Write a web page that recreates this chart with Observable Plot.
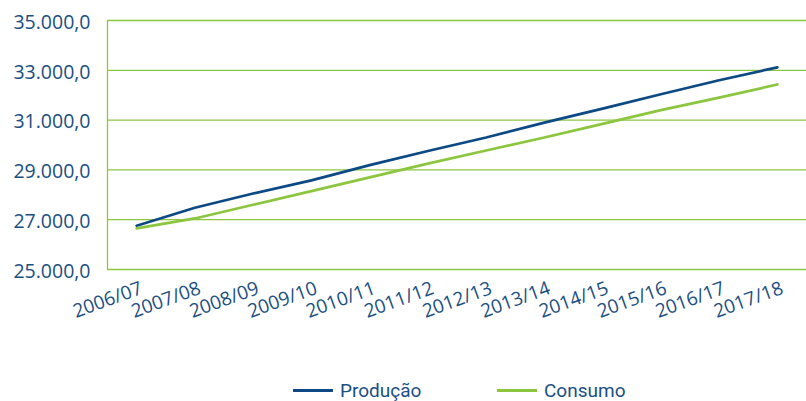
<!DOCTYPE html>
<html>
<head>
<meta charset="utf-8">
<script src="https://cdn.jsdelivr.net/npm/d3@7"></script>
<script src="https://cdn.jsdelivr.net/npm/@observablehq/plot@0.6"></script>
<style>
  html, body { margin: 0; padding: 0; background: #fff; }
  #wrap { position: relative; width: 806px; height: 401px; }
  #chart { width: 806px; }
  .item { position: absolute; top: 378px; display: flex; align-items: center; height: 24px; font-family: Roboto, sans-serif; font-size: 19px; color: #1b4f82; }
  .sw { width: 40px; height: 3px; margin-right: 7px; }
</style>
</head>
<body>
<div id="wrap">
<div id="chart"></div>
</div>
<script>
const categories = ["2006/07","2007/08","2008/09","2009/10","2010/11","2011/12","2012/13","2013/14","2014/15","2015/16","2016/17","2017/18"];
const producao = [26760, 27480, 28050, 28580, 29190, 29760, 30300, 30900, 31460, 32040, 32600, 33120];
const consumo  = [26650, 27050, 27600, 28150, 28700, 29250, 29780, 30300, 30850, 31400, 31900, 32430];
const yTicks = [25000, 27000, 29000, 31000, 33000, 35000];
const seriesNames = ["Produção", "Consumo"];
const seriesColors = ["#0d4a85", "#8cc63f"];

const rows = [];
categories.forEach((c, i) => {
  rows.push({i, cat: c, serie: seriesNames[0], v: producao[i]});
  rows.push({i, cat: c, serie: seriesNames[1], v: consumo[i]});
});

const fmt = d3.formatLocale({decimal: ",", thousands: ".", grouping: [3], currency: ["", ""]}).format(",.1f");
const textColor = "#1b4f82";
const grid = "#8cc63f";

const chart = Plot.plot({
  width: 806,
  height: 355,
  marginLeft: 107,
  marginRight: 0,
  marginTop: 20,
  marginBottom: 86,
  style: {fontFamily: "'Open Sans', sans-serif", color: textColor, background: "#fff"},
  x: {type: "linear", domain: [-0.5, categories.length - 0.5]},
  y: {domain: [25000, 35000]},
  color: {domain: seriesNames, range: seriesColors},
  marks: [
    Plot.ruleY(yTicks, {stroke: grid, strokeWidth: 1.3}),
    Plot.ruleX([-0.5], {y1: 25000, y2: 35000, stroke: grid, strokeWidth: 1.3}),
    Plot.axisY({ticks: yTicks, tickFormat: fmt, tickSize: 0, tickPadding: 17, fontSize: 19.5, label: null, fill: textColor, dy: 2}),
    Plot.axisX({ticks: d3.range(categories.length), tickFormat: i => categories[i], tickSize: 0, tickPadding: 18, tickRotate: -20, fontSize: 19, label: null, fill: textColor, dx: 5}),
    Plot.line(rows, {x: "i", y: "v", z: "serie", stroke: "serie", strokeWidth: 2.7})
  ]
});
document.getElementById("chart").appendChild(chart);

const wrap = document.getElementById("wrap");
const legendLeft = [293, 497];
seriesNames.forEach((n, k) => {
  const it = document.createElement("div");
  it.className = "item";
  it.style.left = legendLeft[k] + "px";
  const sw = document.createElement("div");
  sw.className = "sw";
  sw.style.background = seriesColors[k];
  const t = document.createElement("span");
  t.textContent = n;
  it.appendChild(sw); it.appendChild(t);
  wrap.appendChild(it);
});
</script>
</body>
</html>
